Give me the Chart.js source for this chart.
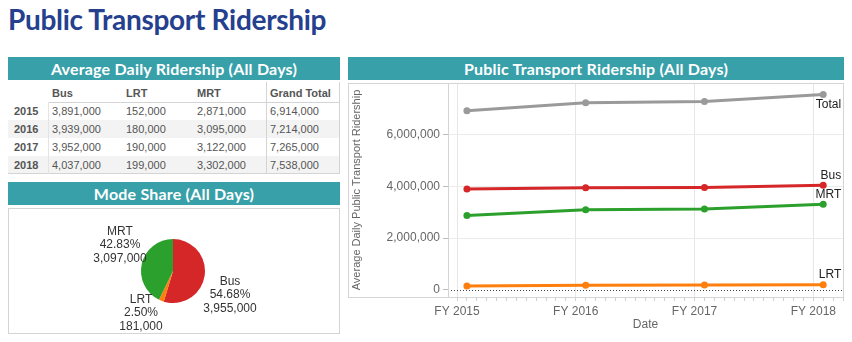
<!DOCTYPE html>
<html>
<head>
<meta charset="utf-8">
<script src="https://cdn.jsdelivr.net/npm/chart.js@4.4.0/dist/chart.umd.min.js"></script>
<style>
  body { margin: 0; width: 852px; height: 342px; background: #fff; position: relative; overflow: hidden;
         font-family: "Liberation Sans", Arial, sans-serif; }
  .title { position: absolute; left: 8px; top: 2px; font-family: Lato, sans-serif; font-weight: 700;
           font-size: 28px; color: #24408e; letter-spacing: -0.3px; }
  .bar { position: absolute; height: 23px; background: #38a0a9; color: #fff; text-align: center;
         font-family: Lato, sans-serif; font-weight: 700; font-size: 16px; line-height: 23px; letter-spacing: 0.2px; }
  .box { position: absolute; border: 1px solid #d4d4d4; box-sizing: border-box; }
  #tbl { position: absolute; left: 8px; top: 82px; width: 332px; }
  #tbl .row { position: absolute; left: 0; width: 332px; height: 18px; }
  #tbl .cell { position: absolute; top: 0; height: 18px; line-height: 18px; font-size: 11px; color: #555; }
  #tbl .hdr { font-weight: 700; color: #555; }
  canvas { position: absolute; }
</style>
</head>
<body>
<div class="title">Public Transport Ridership</div>

<div class="bar" style="left:8px; top:57px; width:332px;">Average Daily Ridership (All Days)</div>
<div id="tbl"></div>

<div class="bar" style="left:8px; top:182px; width:332px;">Mode Share (All Days)</div>
<div class="box" style="left:8px; top:208px; width:332px; height:126px;"></div>
<canvas id="pieChart" style="left:9px; top:209px;" width="330" height="124"></canvas>

<div class="bar" style="left:348px; top:57px; width:496px;">Public Transport Ridership (All Days)</div>
<canvas id="lineChart" style="left:345px; top:79px;" width="507" height="263"></canvas>

<script>
// ---- data ----
const years = [2015, 2016, 2017, 2018];
const tableColumns = ['Bus', 'LRT', 'MRT', 'Grand Total'];
const busRiders = [3891000, 3939000, 3952000, 4037000];
const lrtRiders = [152000, 180000, 190000, 199000];
const mrtRiders = [2871000, 3095000, 3122000, 3302000];
const totalRiders = [6914000, 7214000, 7265000, 7538000];

const shareModes = ['Bus', 'LRT', 'MRT'];
const shareValues = [3955000, 181000, 3097000];
const sharePercents = ['54.68%', '2.50%', '42.83%'];

const yTickValues = [0, 2000000, 4000000, 6000000];

const fmt = v => v.toLocaleString('en-US');

// ---- table ----
const tbl = document.getElementById('tbl');
const colLeft = [0, 40, 114, 185, 258];
let html = '';
html += '<div class="row" style="top:2px;height:18px">';
tableColumns.forEach((c, i) => {
  html += '<div class="cell hdr" style="left:' + (colLeft[i + 1] + 4) + 'px">' + c + '</div>';
});
html += '</div>';
const rows = years.map((y, i) => [busRiders[i], lrtRiders[i], mrtRiders[i], totalRiders[i]]);
years.forEach((y, i) => {
  const bg = i % 2 === 1 ? 'background:#f3f3f3;' : '';
  html += '<div class="row" style="top:' + (20 + i * 18) + 'px;' + bg + '">';
  html += '<div class="cell hdr" style="left:6px">' + y + '</div>';
  rows[i].forEach((v, j) => {
    html += '<div class="cell" style="left:' + (colLeft[j + 1] + 4) + 'px">' + fmt(v) + '</div>';
  });
  html += '</div>';
});
// lines
html += '<div style="position:absolute;left:40px;top:20px;width:292px;height:1px;background:#d4d4d4"></div>';
html += '<div style="position:absolute;left:0;top:91px;width:332px;height:1px;background:#d4d4d4"></div>';
html += '<div style="position:absolute;left:258px;top:0;width:1px;height:92px;background:#d4d4d4"></div>';
html += '<div style="position:absolute;left:331px;top:0;width:1px;height:92px;background:#d4d4d4"></div>';
html += '<div style="position:absolute;left:40px;top:20px;width:1px;height:72px;background:#e4e4e4"></div>';
tbl.innerHTML = html;

// ---- pie ----
const pieLabelOffsets = { Bus: [57, 24], LRT: [-32, 42], MRT: [-53, -26] };

const pieLabels = {
  id: 'pieLabels',
  afterDraw(chart) {
    const ctx = chart.ctx;
    const arc = chart.getDatasetMeta(0).data[0];
    const cx = arc.x, cy = arc.y;
    ctx.save();
    ctx.font = '12px "Liberation Sans", Arial, sans-serif';
    ctx.fillStyle = '#333';
    ctx.textAlign = 'center';
    ctx.textBaseline = 'middle';
    shareModes.forEach((m, i) => {
      const off = pieLabelOffsets[m];
      const lines = [m, sharePercents[i], fmt(shareValues[i])];
      lines.forEach((t, k) => ctx.fillText(t, cx + off[0], cy + off[1] + (k - 1) * 13.5));
    });
    ctx.restore();
  }
};

new Chart(document.getElementById('pieChart'), {
  type: 'pie',
  data: {
    labels: shareModes,
    datasets: [{
      data: shareValues,
      backgroundColor: ['#d62728', '#ff7f0e', '#2ca02c'],
      borderWidth: 0
    }]
  },
  options: {
    responsive: false,
    animation: false,
    layout: { padding: { left: 132, right: 134, top: 30, bottom: 30 } },
    plugins: { legend: { display: false }, tooltip: { enabled: false } }
  },
  plugins: [pieLabels]
});

// ---- line chart ----
// points sit one month into each fiscal year
const toX = y => y + 1 / 12;
const mkData = arr => arr.map((v, i) => ({ x: toX(years[i]), y: v }));

const endLabels = {
  id: 'endLabels',
  afterDatasetsDraw(chart) {
    const ctx = chart.ctx;
    const a = chart.chartArea;
    ctx.save();
    // dotted zero line
    const y0 = chart.scales.y.getPixelForValue(0);
    ctx.strokeStyle = '#444';
    ctx.lineWidth = 1;
    ctx.setLineDash([1, 2]);
    ctx.beginPath();
    ctx.moveTo(a.left, Math.round(y0) + 0.5);
    ctx.lineTo(a.right, Math.round(y0) + 0.5);
    ctx.stroke();
    ctx.setLineDash([]);
    // frame
    ctx.strokeStyle = '#d4d4d4';
    ctx.beginPath();
    ctx.moveTo(3, a.top + 0.5); ctx.lineTo(a.right + 0.5, a.top + 0.5);
    ctx.moveTo(3, a.bottom + 0.5); ctx.lineTo(a.right + 0.5, a.bottom + 0.5);
    ctx.moveTo(a.left + 0.5, a.top); ctx.lineTo(a.left + 0.5, a.bottom);
    ctx.moveTo(a.right + 0.5, a.top); ctx.lineTo(a.right + 0.5, a.bottom);
    ctx.moveTo(3.5, a.top); ctx.lineTo(3.5, a.bottom);
    ctx.stroke();
    // series labels at the last point
    ctx.font = '12px "Liberation Sans", Arial, sans-serif';
    ctx.fillStyle = '#222';
    ctx.textAlign = 'right';
    ctx.textBaseline = 'middle';
    chart.data.datasets.forEach((ds, i) => {
      const pts = chart.getDatasetMeta(i).data;
      const p = pts[pts.length - 1];
      const dy = ds.label === 'Total' ? 10 : -10;
      ctx.fillText(ds.label, p.x + 18, p.y + dy);
    });
    ctx.restore();
  }
};

new Chart(document.getElementById('lineChart'), {
  type: 'line',
  data: {
    datasets: [
      { label: 'Total', data: mkData(totalRiders), borderColor: '#9a9a9a', backgroundColor: '#9a9a9a' },
      { label: 'Bus', data: mkData(busRiders), borderColor: '#d62728', backgroundColor: '#d62728' },
      { label: 'MRT', data: mkData(mrtRiders), borderColor: '#2ca02c', backgroundColor: '#2ca02c' },
      { label: 'LRT', data: mkData(lrtRiders), borderColor: '#ff7f0e', backgroundColor: '#ff7f0e' }
    ]
  },
  options: {
    responsive: false,
    animation: false,
    layout: { padding: { left: 0, right: 9, top: 4, bottom: 0 } },
    elements: {
      line: { borderWidth: 3, tension: 0 },
      point: { radius: 3.5, borderWidth: 0 }
    },
    plugins: { legend: { display: false }, tooltip: { enabled: false } },
    scales: {
      x: {
        type: 'linear',
        min: 2014.924,
        max: 2018.25,
        afterBuildTicks(scale) {
          const t = [];
          for (let m = Math.ceil(scale.min * 12); m <= scale.max * 12; m++) t.push({ value: m / 12 });
          scale.ticks = t;
        },
        afterFit(scale) { scale.height = 45; scale.paddingLeft = 0; scale.paddingRight = 0; },
        ticks: {
          autoSkip: false,
          maxRotation: 0,
          color: '#666',
          font: { size: 12, family: '"Liberation Sans", Arial, sans-serif' },
          callback: v => (Math.abs(v - Math.round(v)) < 1e-6 ? 'FY ' + Math.round(v) : '')
        },
        grid: {
          color: c => (c.tick && Math.abs(c.tick.value - Math.round(c.tick.value)) < 1e-6 ? '#e6e6e6' : 'rgba(0,0,0,0)'),
          tickColor: '#cfcfcf',
          tickLength: 4
        },
        border: { display: false },
        title: {
          display: true, text: 'Date', color: '#666',
          font: { size: 12, family: '"Liberation Sans", Arial, sans-serif' },
          padding: { top: 0, bottom: 10 }
        }
      },
      y: {
        min: -270000,
        max: 7980000,
        afterBuildTicks(scale) { scale.ticks = yTickValues.map(v => ({ value: v })); },
        afterFit(scale) { scale.width = 103; scale.paddingTop = 0; scale.paddingBottom = 0; },
        ticks: {
          color: '#666',
          padding: 3,
          font: { size: 12, family: '"Liberation Sans", Arial, sans-serif' },
          callback: v => fmt(v)
        },
        grid: {
          color: c => (c.tick && c.tick.value === 0 ? 'rgba(0,0,0,0)' : '#ebebeb'),
          tickColor: '#bbb',
          tickLength: 5
        },
        border: { display: false },
        title: {
          display: true, text: 'Average Daily Public Transport Ridership', color: '#666',
          font: { size: 11, family: '"Liberation Sans", Arial, sans-serif' },
          padding: { top: 5, bottom: 0 }
        }
      }
    }
  },
  plugins: [endLabels]
});
</script>
</body>
</html>
